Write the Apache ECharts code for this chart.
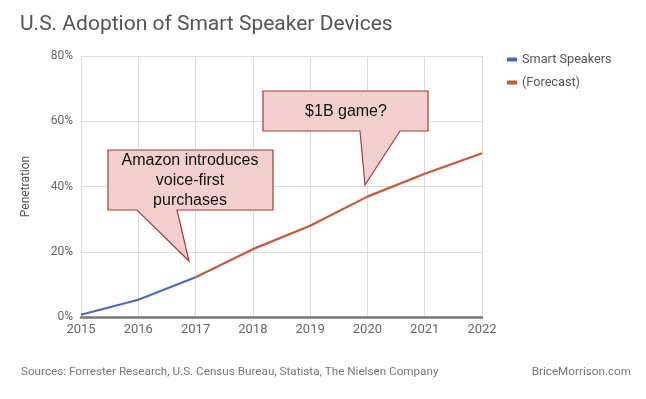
<!DOCTYPE html>
<html>
<head>
<meta charset="utf-8">
<script src="https://cdn.jsdelivr.net/npm/echarts@6/dist/echarts.min.js"></script>
<style>
  html, body { margin: 0; padding: 0; background: #fff; }
  #main { width: 646px; height: 399px; }
</style>
</head>
<body>
<div id="main"></div>
<script>
var years = ['2015', '2016', '2017', '2018', '2019', '2020', '2021', '2022'];
var smartSpeakers = [0.7, 5.3, 12.2, null, null, null, null, null];
var forecast = [null, null, 12.2, 20.8, 28.0, 36.9, 43.9, 50.2];
var yTicks = [0, 20, 40, 60, 80];

var chart = echarts.init(document.getElementById('main'));

// callout shapes (annotation boxes with pointers)
function callout(pts, lines, cx, cy, lh) {
  return [{
    type: 'polygon',
    shape: { points: pts },
    style: { fill: '#f2d0d0', stroke: '#a43a3a', lineWidth: 1.2 },
    z: 100
  }, {
    type: 'text',
    x: cx,
    y: cy,
    style: {
      text: lines,
      fill: '#111',
      font: '16px "Liberation Sans", Arial, sans-serif',
      textAlign: 'center',
      textVerticalAlign: 'middle',
      lineHeight: lh
    },
    z: 101
  }];
}

var option = {
  backgroundColor: '#fff',
  color: ['#4a69c4', '#c8583a'],
  title: {
    text: 'U.S. Adoption of Smart Speaker Devices',
    left: 15,
    top: 9,
    textStyle: {
      fontFamily: 'Roboto',
      fontWeight: 'normal',
      fontSize: 21,
      color: '#555'
    }
  },
  legend: {
    orient: 'vertical',
    left: 502,
    top: 48,
    itemWidth: 10,
    itemHeight: 4,
    itemGap: 10,
    icon: 'rect',
    textStyle: { fontFamily: 'Roboto', fontSize: 12.7, color: '#555' },
    data: ['Smart Speakers', '(Forecast)']
  },
  grid: {
    left: 81,
    right: 164,
    top: 56,
    bottom: 82
  },
  xAxis: {
    type: 'category',
    data: years,
    boundaryGap: false,
    axisLine: { lineStyle: { color: '#777', width: 2.5 } },
    axisTick: { show: false },
    axisLabel: { fontFamily: 'Roboto', fontSize: 13, color: '#666', margin: 6 },
    splitLine: { show: true, lineStyle: { color: '#ddd' } }
  },
  yAxis: {
    type: 'value',
    min: 0,
    max: 80,
    interval: 20,
    name: 'Penetration',
    nameLocation: 'middle',
    nameGap: 49,
    nameTextStyle: { fontFamily: 'Roboto', fontSize: 12, color: '#555' },
    axisLine: { show: false },
    axisTick: { show: false },
    axisLabel: {
      fontFamily: 'Roboto',
      fontSize: 12,
      color: '#666',
      margin: 8,
      formatter: function (v) { return yTicks.indexOf(v) >= 0 ? v + '%' : ''; }
    },
    splitLine: { lineStyle: { color: '#ddd' } }
  },
  series: [{
    name: 'Smart Speakers',
    type: 'line',
    data: smartSpeakers,
    showSymbol: false,
    lineStyle: { width: 2.2 },
    z: 3
  }, {
    name: '(Forecast)',
    type: 'line',
    data: forecast,
    showSymbol: false,
    lineStyle: { width: 2.2 },
    z: 3
  }],
  graphic: [].concat(
    callout([[108, 150], [273, 150], [273, 210], [177, 210], [189, 261], [137, 210], [108, 210]],
      'Amazon introduces\nvoice-first\npurchases', 190, 181, 20),
    callout([[263, 91], [428, 91], [428, 131], [400, 131], [365, 185], [360, 131], [263, 131]],
      '$1B game?', 346, 112, 20),
    [{
      type: 'text',
      left: 21,
      top: 366,
      style: {
        text: 'Sources: Forrester Research, U.S. Census Bureau, Statista, The Nielsen Company',
        fill: '#777',
        font: '11.7px Roboto'
      }
    }, {
      type: 'text',
      right: 15,
      top: 366,
      style: {
        text: 'BriceMorrison.com',
        fill: '#777',
        font: '11.7px Roboto'
      }
    }]
  )
};

chart.setOption(option);
</script>
</body>
</html>
